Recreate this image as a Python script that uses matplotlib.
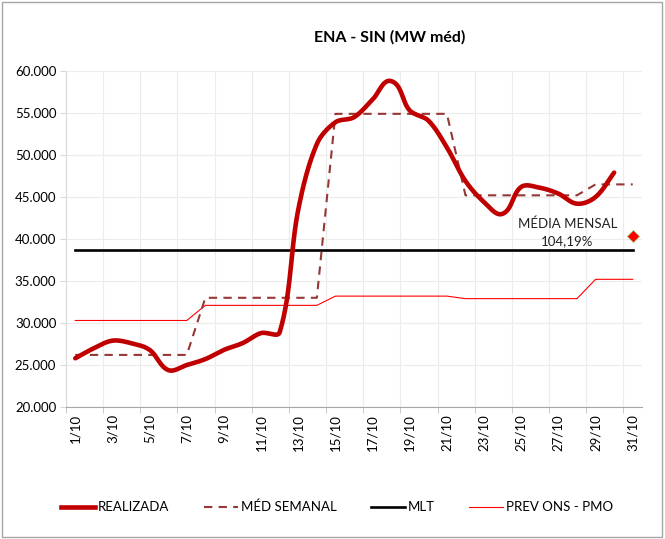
import numpy as np
import matplotlib
matplotlib.use("Agg")
import matplotlib.pyplot as plt
from matplotlib.lines import Line2D
from matplotlib.patches import Rectangle

plt.rcParams['font.family'] = ['Lato', 'DejaVu Sans']

days = list(range(1, 32))
day_labels = [f"{d}/10" for d in days]

realizada = [25.8, 27.0, 27.9, 27.6, 26.8, 24.4, 25.0, 25.7, 26.8, 27.6,
             28.8, 28.9, 43.5, 51.3, 53.9, 54.5, 56.6, 58.8, 55.3, 54.1,
             50.9, 46.9, 44.4, 43.0, 46.2, 46.1, 45.4, 44.2, 45.0, 47.9]
med_semanal = [26.2] * 7 + [33.0] * 7 + [54.9] * 7 + [45.2] * 7 + [46.5] * 3
prev_ons = [30.3] * 7 + [32.1] * 7 + [33.2] * 7 + [32.9] * 7 + [35.2] * 3
mlt = [38.7] * 31
media_mensal_val = 40.3
media_mensal_txt = "MÉDIA MENSAL\n104,19%"

realizada = [v * 1000 for v in realizada]
med_semanal = [v * 1000 for v in med_semanal]
prev_ons = [v * 1000 for v in prev_ons]
mlt = [v * 1000 for v in mlt]
media_mensal_val *= 1000


def smooth(x, y, sx, sy, n=30, k=0.33):
    """Excel-like smoothed line: Bezier with chord-length scaled arms (screen space)."""
    P = np.column_stack([np.asarray(x, float) * sx, np.asarray(y, float) * sy])
    m = len(P)
    T = np.zeros_like(P)
    for i in range(m):
        a = max(i - 1, 0)
        b = min(i + 1, m - 1)
        d = P[b] - P[a]
        T[i] = d / np.hypot(*d)
    t = np.linspace(0, 1, n, endpoint=False)[:, None]
    pts = []
    for i in range(m - 1):
        L = np.hypot(*(P[i + 1] - P[i]))
        c1 = P[i] + T[i] * L * k
        c2 = P[i + 1] - T[i + 1] * L * k
        seg = ((1 - t) ** 3) * P[i] + 3 * ((1 - t) ** 2) * t * c1 + 3 * (1 - t) * t ** 2 * c2 + t ** 3 * P[i + 1]
        pts.append(seg)
    pts.append(P[-1:])
    pts = np.vstack(pts)
    return pts[:, 0] / sx, pts[:, 1] / sy


fig = plt.figure(figsize=(6.65, 5.39), dpi=100)
ax = fig.add_axes([66 / 665, 1 - 407 / 539, (642 - 66) / 665, (407 - 71) / 539])

rx, ry = smooth(days[:len(realizada)], realizada, 18.58, 8.43 / 1000)
ax.plot(days, prev_ons, color='#ff0000', lw=0.8, zorder=3)
ax.plot(days, mlt, color='black', lw=1.9, zorder=3)
ax.plot(days, med_semanal, color='#953735', lw=1.5, ls=(0, (4, 3)), zorder=4)
ax.plot(rx, ry, color='#c00000', lw=3.3, solid_capstyle='round', zorder=5)
ax.plot([31], [media_mensal_val], marker='D', ms=6, color='#ff0000',
        markeredgecolor='#9bbb59', markeredgewidth=0.5, ls='none', zorder=6)
ax.annotate(media_mensal_txt, xy=(31, media_mensal_val), xytext=(-47, 3),
            textcoords='offset points', ha='center', va='center',
            fontsize=9.5, color='#222222', linespacing=1.55, zorder=6)

ax.set_xlim(0.5, 31.5)
ax.set_ylim(20000, 60000)
ax.set_yticks(np.arange(20000, 60001, 5000))
ax.set_yticklabels([f"{v // 1000}.000" for v in range(20000, 60001, 5000)], fontsize=9.5)
ax.set_xticks(days[::2])
ax.set_xticklabels(day_labels[::2], rotation=90, fontsize=9.5)
ax.set_xticks(np.arange(0.5, 31.6, 2), minor=True)
ax.tick_params(axis='x', which='major', length=0, pad=5)
ax.tick_params(axis='x', which='minor', length=4, color='#bfbfbf')
ax.tick_params(axis='y', length=4, color='#d9d9d9', pad=3)
ax.grid(axis='y', color='#ececec', lw=0.8)
ax.grid(axis='x', which='minor', color='#ececec', lw=0.8)
ax.set_axisbelow(True)
for s in ['top', 'right']:
    ax.spines[s].set_visible(False)
ax.spines['left'].set_color('#d9d9d9')
ax.spines['bottom'].set_color('#a6a6a6')

fig.text(390 / 665, 1 - 37 / 539, "ENA - SIN (MW méd)", ha='center', va='center',
         fontsize=11.5, fontweight='bold')

handles = [
    Line2D([], [], color='#c00000', lw=3.3),
    Line2D([], [], color='#953735', lw=1.5, ls=(0, (4, 3))),
    Line2D([], [], color='black', lw=1.9),
    Line2D([], [], color='#ff0000', lw=0.8),
]
labels = ["REALIZADA", "MÉD SEMANAL", "MLT", "PREV ONS - PMO"]
fig.legend(handles, labels, loc='center', bbox_to_anchor=(337 / 665, 1 - 507 / 539),
           ncol=4, frameon=False, fontsize=9.5, handlelength=2.6, handletextpad=0.2,
           columnspacing=2.6)

fig.add_artist(Rectangle((2 / 665, 2 / 539), 660 / 665, 535 / 539, transform=fig.transFigure,
                         fill=False, edgecolor='#a6a6a6', lw=1))

fig.savefig("out.png", dpi=100)
